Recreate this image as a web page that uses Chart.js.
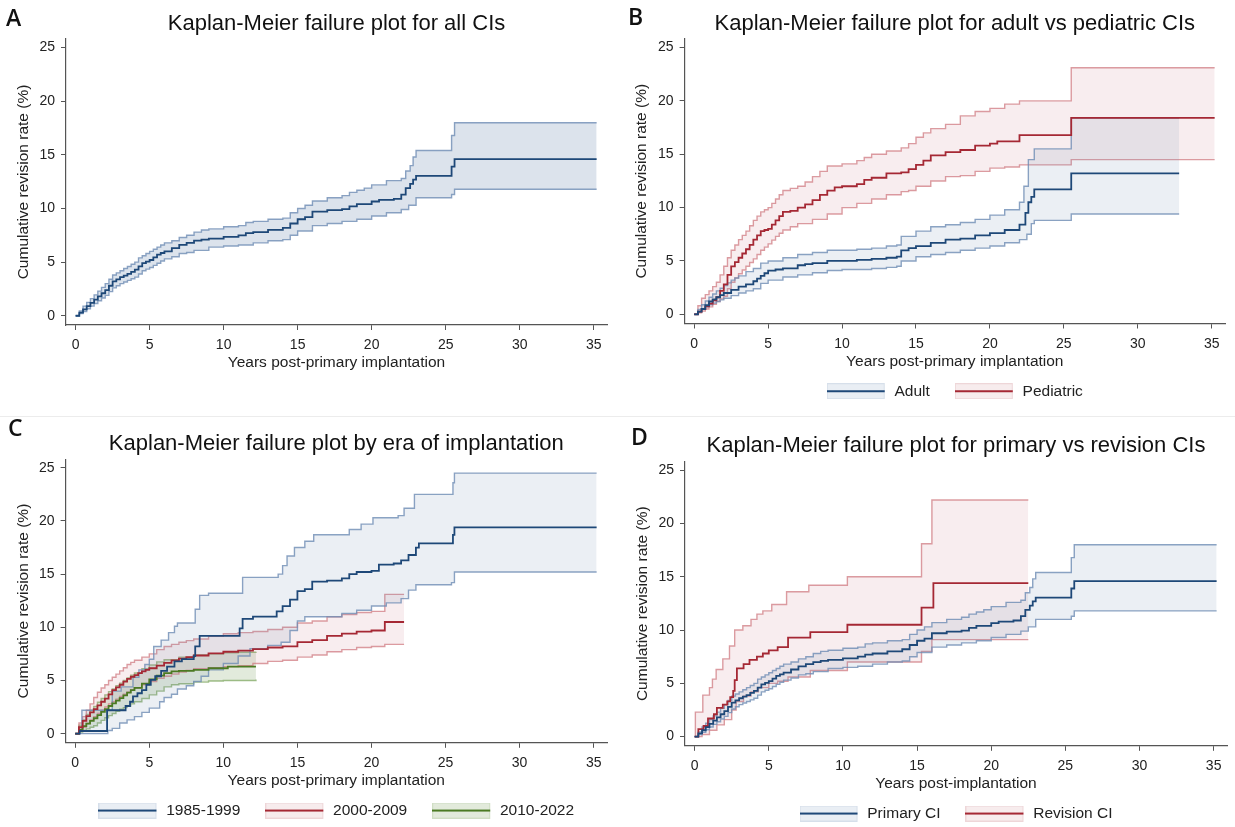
<!DOCTYPE html>
<html>
<head>
<meta charset="utf-8">
<script src="https://cdn.jsdelivr.net/npm/chart.js@4.4.0/dist/chart.umd.min.js"></script>
<style>
  body { margin: 0; width: 1235px; height: 827px; overflow: hidden; background: #fff; position: relative; }
  canvas { position: absolute; }
  .tag { position: absolute; font-family: 'Open Sans', sans-serif; font-weight: 600; font-size: 23px; line-height: 23px; color: #111; }
  .sep { position: absolute; left: 0; top: 416px; width: 1235px; height: 1px; background: #ececec; }
</style>
</head>
<body>
<div class="sep"></div>
<canvas id="cA" width="615" height="410" style="left:0;top:0"></canvas>
<canvas id="cB" width="620" height="410" style="left:615px;top:0"></canvas>
<canvas id="cC" width="615" height="420" style="left:0;top:410px"></canvas>
<canvas id="cD" width="620" height="423" style="left:615px;top:410px"></canvas>
<div class="tag" style="left:6px;top:6px">A</div>
<div class="tag" style="left:628px;top:5px">B</div>
<div class="tag" style="left:8px;top:416px">C</div>
<div class="tag" style="left:631px;top:425px">D</div>
<script>
// tick labels
const xTicks = [0, 5, 10, 15, 20, 25, 30, 35];
const yTicks = [0, 5, 10, 15, 20, 25];

// A: all CIs  [years, %]
const allEst = [[0,0],[0.25,0.3],[0.5,0.6],[0.75,0.9],[1,1.2],[1.25,1.5],[1.5,1.8],[1.75,2.1],[2,2.4],[2.25,2.8],[2.5,3.2],[2.75,3.4],[3,3.6],[3.25,3.75],[3.5,3.9],[3.75,4.1],[4,4.3],[4.25,4.6],[4.5,4.9],[4.75,5.05],[5,5.2],[5.25,5.45],[5.5,5.7],[5.75,5.85],[6,6.0],[6.5,6.3],[7,6.6],[7.5,6.8],[8,7.0],[8.5,7.1],[9,7.2],[10,7.35],[11,7.5],[11.5,7.7],[12,7.8],[13,8.0],[14,8.2],[14.5,8.6],[15,9.0],[15.5,9.2],[16,9.7],[17,9.85],[18,9.95],[18.5,10.2],[19,10.4],[20,10.65],[20.5,10.8],[21.5,10.9],[22,11.3],[22.3,11.9],[22.6,12.3],[22.8,12.7],[23,13.05],[25.4,13.9],[25.6,14.6],[35.2,14.6]];
const allUpper = [[0,0],[0.25,0.45],[0.5,0.9],[0.75,1.25],[1,1.6],[1.25,1.95],[1.5,2.3],[1.75,2.65],[2,3.0],[2.25,3.4],[2.5,3.8],[2.75,4.0],[3,4.2],[3.25,4.4],[3.5,4.6],[3.75,4.8],[4,5.0],[4.25,5.4],[4.5,5.6],[4.75,5.8],[5,6.0],[5.25,6.2],[5.5,6.4],[5.75,6.6],[6,6.8],[6.5,7.0],[7,7.3],[7.5,7.5],[8,7.8],[8.5,8.0],[9,8.1],[10,8.3],[11,8.4],[11.5,8.7],[12,8.8],[13,9.0],[14,9.1],[14.5,9.6],[15,10.0],[15.5,10.3],[16,10.7],[17,11.0],[18,11.2],[18.5,11.5],[19,11.7],[19.5,11.9],[20,12.2],[21,12.6],[22,12.8],[22.3,13.5],[22.6,14.0],[22.8,14.8],[23,15.4],[25.4,16.8],[25.6,18.0],[35.2,18.0]];
const allLower = [[0,0],[0.25,0.2],[0.5,0.4],[0.75,0.65],[1,0.9],[1.25,1.15],[1.5,1.4],[1.75,1.65],[2,1.9],[2.25,2.25],[2.5,2.6],[2.75,2.8],[3,3.0],[3.25,3.15],[3.5,3.3],[3.75,3.45],[4,3.6],[4.25,3.9],[4.5,4.2],[4.75,4.35],[5,4.5],[5.25,4.7],[5.5,4.9],[5.75,5.1],[6,5.3],[6.5,5.5],[7,5.8],[7.5,5.9],[8,6.1],[9,6.4],[10,6.5],[11,6.6],[12,6.8],[13,7.0],[14,7.1],[14.5,7.5],[15,7.9],[16,8.4],[17,8.6],[18,8.8],[19,9.0],[20,9.3],[21,9.6],[22,9.9],[22.5,10.3],[23,11.0],[25.4,11.3],[25.6,11.8],[35.2,11.8]];

// B: adult vs pediatric
const adultEst = [[0,0],[0.25,0.25],[0.5,0.5],[0.75,0.85],[1,1.2],[1.25,1.4],[1.5,1.6],[1.75,1.8],[2,2.0],[2.5,2.3],[3,2.6],[3.5,2.8],[4,3.1],[4.25,3.35],[4.5,3.6],[4.75,3.85],[5,4.1],[5.5,4.2],[6,4.3],[7,4.6],[7.5,4.7],[8,4.8],[9,5.0],[10,5.0],[11,5.1],[12,5.2],[13,5.3],[13.7,5.4],[14,6.0],[14.5,6.2],[15,6.4],[16,6.7],[17,7.0],[18,7.1],[19,7.4],[20,7.6],[21,7.9],[22,8.4],[22.4,9.5],[22.6,10.5],[22.8,11.0],[23,11.7],[25.5,13.2],[32.8,13.2]];
const adultUpper = [[0,0],[0.25,0.45],[0.5,0.9],[0.75,1.25],[1,1.6],[1.25,1.9],[1.5,2.2],[1.75,2.45],[2,2.7],[2.25,2.95],[2.5,3.2],[2.75,3.4],[3,3.6],[3.5,4.0],[4,4.3],[4.5,4.8],[5,5.0],[6,5.3],[7,5.6],[8,5.8],[9,6.0],[10,6.0],[11,6.1],[12,6.2],[13,6.4],[13.7,6.5],[14,7.3],[15,7.8],[16,8.2],[17,8.4],[18,8.6],[19,8.9],[20,9.3],[21,9.8],[22,10.5],[22.3,12.0],[22.6,14.5],[23,15.5],[25.5,18.4],[32.8,18.4]];
const adultLower = [[0,0],[0.25,0.25],[0.5,0.5],[0.75,0.7],[1,0.9],[1.25,1.05],[1.5,1.2],[1.75,1.35],[2,1.5],[2.5,1.75],[3,2.0],[3.5,2.2],[4,2.4],[4.5,2.9],[5,3.2],[6,3.5],[7,3.7],[8,3.9],[9,4.1],[10,4.2],[11,4.2],[12,4.3],[13,4.4],[13.7,4.5],[14,5.0],[15,5.4],[16,5.6],[17,5.8],[18,6.0],[19,6.2],[20,6.4],[21,6.7],[22,7.0],[22.5,7.5],[22.8,8.5],[23,8.8],[25.5,9.4],[32.8,9.4]];
const pedEst = [[0,0],[0.25,0.25],[0.5,0.5],[0.75,0.75],[1,1.0],[1.25,1.3],[1.5,1.6],[1.75,2.2],[2,2.8],[2.25,3.7],[2.5,4.5],[2.75,4.9],[3,5.3],[3.25,5.7],[3.5,6.1],[3.75,6.5],[4,7.0],[4.25,7.4],[4.5,7.8],[4.75,7.9],[5,8.0],[5.25,8.4],[5.5,8.8],[5.75,9.2],[6,9.6],[6.5,9.7],[7,10.0],[7.5,10.3],[8,10.7],[8.5,11.2],[9,11.6],[9.5,11.9],[10,12.0],[11,12.2],[11.5,12.6],[12,12.8],[13,13.2],[14,13.3],[14.5,13.6],[15,14.0],[15.5,14.4],[16,14.9],[17,15.2],[18,15.4],[19,15.8],[20,16.0],[20.5,16.2],[22,16.8],[25.5,18.4],[35.2,18.4]];
const pedUpper = [[0,0],[0.25,0.8],[0.5,1.5],[0.75,1.85],[1,2.2],[1.25,2.6],[1.5,3.0],[1.75,3.7],[2,4.5],[2.25,5.3],[2.5,6.0],[2.75,6.5],[3,7.0],[3.25,7.4],[3.5,7.8],[3.75,8.3],[4,8.8],[4.25,9.2],[4.5,9.6],[4.75,9.8],[5,10.0],[5.25,10.4],[5.5,10.8],[5.75,11.2],[6,11.6],[6.5,11.8],[7,12.0],[7.5,12.4],[8,12.9],[8.5,13.4],[9,13.9],[10,14.1],[11,14.4],[11.5,14.7],[12,15.0],[13,15.3],[14,15.6],[14.5,16.0],[15,16.6],[15.5,17.0],[16,17.4],[17,17.8],[18,18.6],[19,19.0],[20,19.3],[21,19.7],[22,20.0],[25.5,23.1],[35.2,23.1]];
const pedLower = [[0,0],[0.25,0.15],[0.5,0.3],[0.75,0.5],[1,0.7],[1.25,0.95],[1.5,1.2],[1.75,1.45],[2,1.7],[2.25,2.4],[2.5,3.0],[2.75,3.4],[3,3.8],[3.25,4.15],[3.5,4.5],[3.75,4.85],[4,5.2],[4.25,5.6],[4.5,6.0],[4.75,6.3],[5,6.6],[5.25,6.95],[5.5,7.3],[5.75,7.6],[6,7.9],[6.5,8.2],[7,8.5],[8,8.9],[9,9.4],[10,10.0],[11,10.4],[12,10.8],[13,11.2],[14,11.5],[14.5,11.6],[15,12.0],[16,12.5],[17,12.9],[18,13.0],[19,13.4],[20,13.7],[21,13.8],[22,14.0],[25.5,14.5],[35.2,14.5]];

// C: era of implantation
const era1Est = [[0,0],[0.3,0.25],[2.15,2.2],[3.4,2.6],[3.7,3.0],[3.9,3.5],[4.2,3.8],[4.5,4.1],[4.8,4.6],[5.1,5.05],[5.4,5.4],[5.8,5.9],[6.2,6.3],[6.7,6.8],[7.2,7.0],[8.0,7.3],[8.1,8.2],[8.4,9.2],[11.1,9.9],[11.3,10.8],[12,11.0],[13.6,11.5],[14,12.0],[14.5,12.6],[15,13.4],[15.5,13.6],[16,14.3],[17,14.4],[18,14.6],[18.5,15.0],[19,15.2],[20,15.3],[20.5,15.9],[21.5,16.0],[22,16.3],[22.5,16.8],[23,17.5],[23.2,17.9],[25.5,18.7],[25.6,19.4],[35.2,19.4]];
const era1Upper = [[0,0],[0.3,0.3],[0.45,2.2],[2.5,4.0],[3.1,4.4],[3.9,5.3],[4.3,6.0],[4.7,6.5],[5.0,7.0],[5.3,8.2],[5.8,8.8],[6.3,9.5],[6.7,10.1],[6.9,10.4],[8.1,11.7],[8.4,13.0],[9,13.2],[11.3,14.7],[13.7,15.0],[14,15.8],[14.3,16.7],[14.8,17.5],[15.5,18.1],[16.1,18.7],[18.5,19.2],[19.3,19.7],[20.1,20.3],[21.8,20.5],[22.2,21.2],[22.9,22.5],[25.5,23.6],[25.6,24.5],[35.2,24.5]];
const era1Lower = [[0,0],[2.2,0.3],[2.5,0.5],[3,1.0],[3.5,1.3],[4,1.6],[4.5,2.0],[5,2.4],[5.7,3.0],[6,3.4],[6.5,3.7],[6.9,4.2],[7.5,4.5],[8,4.9],[8.5,5.4],[9,6.0],[10,6.6],[11,7.3],[11.8,8.0],[13,8.3],[13.9,8.6],[14.5,9.7],[15,10.6],[15.5,11.0],[18,11.3],[19,11.6],[20,12.0],[21,12.3],[22,12.7],[22.5,13.5],[23,14.0],[25.4,14.2],[25.6,15.2],[35.2,15.2]];
const era2Est = [[0,0],[0.25,0.6],[0.5,1.2],[0.75,1.65],[1,2.0],[1.25,2.3],[1.5,2.65],[1.75,3.0],[2,3.3],[2.25,3.7],[2.5,4.1],[2.75,4.35],[3,4.6],[3.25,4.9],[3.5,5.15],[3.75,5.35],[4,5.5],[4.25,5.7],[4.5,5.85],[4.75,6.0],[5,6.15],[5.5,6.4],[6,6.65],[6.5,6.9],[7,7.05],[7.5,7.2],[8,7.35],[9,7.55],[10,7.7],[11,7.8],[12,7.95],[13,8.1],[14,8.2],[15,8.6],[16,8.8],[17,9.2],[18,9.4],[19,9.6],[20,9.7],[20.9,10.5],[22.2,10.5]];
const era2Upper = [[0,0],[0.25,1.0],[0.5,1.6],[0.75,2.2],[1,2.8],[1.25,3.4],[1.5,3.9],[1.75,4.3],[2,4.6],[2.25,5.0],[2.5,5.3],[2.75,5.6],[3,5.9],[3.25,6.2],[3.5,6.5],[3.75,6.7],[4,6.9],[4.5,7.2],[5,7.5],[5.5,7.9],[6,8.2],[6.5,8.4],[7,8.6],[7.5,8.75],[8,8.9],[9,9.15],[10,9.4],[11,9.5],[12,9.6],[13,9.8],[14,10.0],[15,10.4],[16,10.6],[17,11.0],[18,11.2],[19,11.4],[20,11.5],[20.9,13.1],[22.2,13.1]];
const era2Lower = [[0,0],[0.25,0.25],[0.5,0.6],[0.75,0.95],[1,1.3],[1.25,1.6],[1.5,1.9],[1.75,2.2],[2,2.5],[2.25,2.8],[2.5,3.0],[2.75,3.25],[3,3.5],[3.25,3.7],[3.5,3.9],[3.75,4.1],[4,4.3],[4.5,4.6],[5,4.9],[5.5,5.2],[6,5.4],[6.5,5.6],[7,5.8],[7.5,5.95],[8,6.1],[9,6.2],[10,6.3],[11,6.4],[12,6.6],[13,6.8],[14,6.9],[15,7.2],[16,7.4],[17,7.7],[18,7.9],[19,8.1],[20,8.2],[20.9,8.4],[22.2,8.4]];
const era3Est = [[0,0],[0.25,0.35],[0.5,0.7],[0.75,0.95],[1,1.2],[1.25,1.45],[1.5,1.75],[1.75,2.05],[2,2.3],[2.25,2.6],[2.5,2.85],[2.75,3.1],[3,3.35],[3.25,3.6],[3.5,3.85],[3.75,4.1],[4,4.3],[4.5,4.7],[5,5.1],[5.5,5.45],[6,5.7],[6.5,5.85],[7,5.9],[8,6.0],[9,6.15],[10.3,6.3],[12.2,6.3]];
const era3Upper = [[0,0],[0.25,0.8],[0.5,1.3],[0.75,1.8],[1,2.2],[1.25,2.55],[1.5,2.95],[1.75,3.3],[2,3.65],[2.25,3.95],[2.5,4.2],[2.75,4.5],[3,4.75],[3.25,5.0],[3.5,5.25],[3.75,5.5],[4,5.7],[4.5,6.1],[5,6.45],[5.5,6.75],[6,6.95],[7,7.2],[8,7.4],[9,7.5],[10,7.6],[11,7.65],[12.2,7.7]];
const era3Lower = [[0,0],[0.25,0.15],[0.5,0.3],[0.75,0.45],[1,0.6],[1.25,0.75],[1.5,1.0],[1.75,1.25],[2,1.5],[2.25,1.7],[2.5,1.9],[2.75,2.1],[3,2.3],[3.25,2.45],[3.5,2.6],[3.75,2.8],[4,3.0],[4.5,3.3],[5,3.65],[5.5,4.0],[6,4.4],[6.5,4.6],[7,4.7],[8,4.85],[9,4.95],[10,5.0],[12.2,5.1]];

// D: primary vs revision (primary curve reads the same as panel A)
const primEst = allEst, primUpper = allUpper, primLower = allLower;
const revEst = [[0,0],[0.25,0.7],[0.6,1.0],[0.9,1.7],[1.3,2.1],[1.5,2.7],[1.9,3.0],[2.2,3.3],[2.4,3.7],[2.6,4.3],[2.7,5.3],[2.85,6.4],[3.3,6.8],[3.7,7.2],[4.2,7.5],[4.6,7.8],[5.0,8.1],[5.6,8.4],[6.3,9.3],[7.8,9.8],[10.3,10.5],[15.3,12.1],[16.1,14.4],[22.5,14.4]];
const revUpper = [[0,0],[0.05,2.3],[0.55,3.9],[1.0,4.6],[1.2,5.4],[1.45,6.3],[1.9,7.3],[2.35,8.5],[2.7,10.0],[3.25,10.4],[3.8,11.0],[4.2,11.5],[4.6,11.8],[5.2,12.4],[6.2,13.6],[7.7,14.2],[10.3,15.0],[15.3,18.1],[16.0,22.2],[22.5,22.2]];
const revLower = [[0,0],[0.5,0.2],[1.0,0.6],[1.5,1.1],[2.0,1.6],[2.5,2.5],[2.8,3.3],[3.3,3.8],[3.8,4.2],[4.3,4.6],[5.0,5.0],[5.6,5.2],[6.3,5.6],[7.8,6.2],[10.3,7.0],[15.3,8.0],[16.0,9.1],[22.5,9.1]];

Chart.defaults.font.family = "'Liberation Sans', Arial, sans-serif";
Chart.defaults.color = '#222';

const BLUE = { main: 'rgb(30,72,120)', ci: 'rgba(110,140,180,0.8)', fill: 'rgba(120,145,180,0.15)', key: 'rgb(233,238,244)', edge: 'rgb(214,223,234)' };
const RED = { main: 'rgb(165,40,52)', ci: 'rgba(205,115,122,0.7)', fill: 'rgba(200,110,120,0.12)', key: 'rgb(247,236,237)', edge: 'rgb(238,214,216)' };
const GREEN = { main: 'rgb(75,122,35)', ci: 'rgba(130,170,100,0.75)', fill: 'rgba(110,150,80,0.2)', key: 'rgb(226,234,219)', edge: 'rgb(208,222,196)' };

const pts = a => a.map(p => ({ x: p[0], y: p[1] }));

function band(name, upper, lower, est, col, fill) {
  const base = { stepped: true, pointRadius: 0, pointHoverRadius: 0 };
  return [
    { ...base, label: name + ' upper', data: pts(upper), borderColor: col.ci, borderWidth: 1.4, backgroundColor: fill || col.fill, fill: '+1', order: 2 },
    { ...base, label: name + ' lower', data: pts(lower), borderColor: col.ci, borderWidth: 1.4, fill: false, order: 2 },
    { ...base, label: name, data: pts(est), borderColor: col.main, borderWidth: 1.8, fill: false, order: 1 }
  ];
}

// legend key: shaded box with the estimate line through it
function legendKey(col) {
  const c = document.createElement('canvas');
  c.width = 60; c.height = 16;
  const g = c.getContext('2d');
  g.fillStyle = col.key; g.fillRect(0, 0, 58, 16);
  g.strokeStyle = col.edge; g.lineWidth = 1; g.strokeRect(0.5, 0.5, 57, 15);
  g.strokeStyle = col.main; g.lineWidth = 2;
  g.beginPath(); g.moveTo(0, 8); g.lineTo(58, 8); g.stroke();
  return c;
}

function panel(id, p) {
  const hasKey = !!p.keys;
  new Chart(document.getElementById(id), {
    type: 'line',
    data: { datasets: p.datasets },
    options: {
      responsive: false, animation: false, devicePixelRatio: 1,
      layout: { padding: { left: 0, top: 0, right: p.right, bottom: p.bottom } },
      plugins: {
        title: { display: true, text: p.title, fullSize: false, color: '#111', font: { size: 22, weight: 'normal' }, padding: { top: p.tTop, bottom: p.tBot } },
        tooltip: { enabled: false },
        legend: {
          display: hasKey, position: 'bottom', fullSize: false,
          labels: {
            usePointStyle: true, pointStyleWidth: 60, boxHeight: 15, padding: 25,
            font: { size: 15.5 }, color: '#222',
            generateLabels: () => (p.keys || []).map((k, i) => ({
              text: k[0], pointStyle: legendKey(k[1]), fillStyle: 'transparent', strokeStyle: 'transparent',
              lineWidth: 0, hidden: false, datasetIndex: i * 3 + 2, fontColor: '#222'
            }))
          }
        }
      },
      scales: {
        x: {
          type: 'linear', min: -0.65, max: 35.9,
          afterBuildTicks: s => { s.ticks = xTicks.map(v => ({ value: v })); },
          afterFit: s => { s.height = hasKey ? 35 : 50; },
          ticks: { autoSkip: false, maxRotation: 0, padding: 7, font: { size: 14 }, color: '#222' },
          grid: { drawOnChartArea: false, drawTicks: true, tickLength: 5, color: '#555' },
          border: { color: '#555', width: 1.2 },
          title: { display: true, text: p.xTitle, font: { size: 15.5 }, color: '#222', padding: { top: 0, bottom: hasKey ? -12.3 : 2.7 } }
        },
        y: {
          type: 'linear', min: -0.86, max: 25.8,
          afterBuildTicks: s => { s.ticks = yTicks.map(v => ({ value: v })); },
          afterFit: s => { s.width = p.left; },
          ticks: { autoSkip: false, padding: 6, font: { size: 14 }, color: '#222' },
          grid: { drawOnChartArea: false, drawTicks: true, tickLength: 5, color: '#555' },
          border: { color: '#555', width: 1.2 },
          title: { display: true, text: 'Cumulative revision rate (%)', font: { size: 15.5 }, color: '#222', padding: { top: p.yPad, bottom: 0 } }
        }
      }
    }
  });
}

panel('cA', {
  title: 'Kaplan-Meier failure plot for all CIs', xTitle: 'Years post-primary implantation',
  left: 66, right: 8, bottom: 35, tTop: 10.8, tBot: 1.8, yPad: 14.5,
  datasets: band('All', allUpper, allLower, allEst, BLUE, 'rgba(120,145,180,0.26)')
});
panel('cB', {
  title: 'Kaplan-Meier failure plot for adult vs pediatric CIs', xTitle: 'Years post-primary implantation',
  left: 69.6, right: 10, bottom: 1, tTop: 10.8, tBot: 1.8, yPad: 17.7,
  keys: [['Adult', BLUE], ['Pediatric', RED]],
  datasets: [...band('Adult', adultUpper, adultLower, adultEst, BLUE), ...band('Pediatric', pedUpper, pedLower, pedEst, RED)]
});
panel('cC', {
  title: 'Kaplan-Meier failure plot by era of implantation', xTitle: 'Years post-primary implantation',
  left: 65.6, right: 8, bottom: 1.7, tTop: 21.1, tBot: 1.8, yPad: 14.5,
  keys: [['1985-1999', BLUE], ['2000-2009', RED], ['2010-2022', GREEN]],
  datasets: [...band('1985-1999', era1Upper, era1Lower, era1Est, BLUE), ...band('2000-2009', era2Upper, era2Lower, era2Est, RED), ...band('2010-2022', era3Upper, era3Lower, era3Est, GREEN)]
});
panel('cD', {
  title: 'Kaplan-Meier failure plot for primary vs revision CIs', xTitle: 'Years post-implantation',
  left: 70, right: 8, bottom: 1.7, tTop: 22.8, tBot: 2.5, yPad: 18.5,
  keys: [['Primary CI', BLUE], ['Revision CI', RED]],
  datasets: [...band('Primary CI', primUpper, primLower, primEst, BLUE), ...band('Revision CI', revUpper, revLower, revEst, RED)]
});
</script>
</body>
</html>
